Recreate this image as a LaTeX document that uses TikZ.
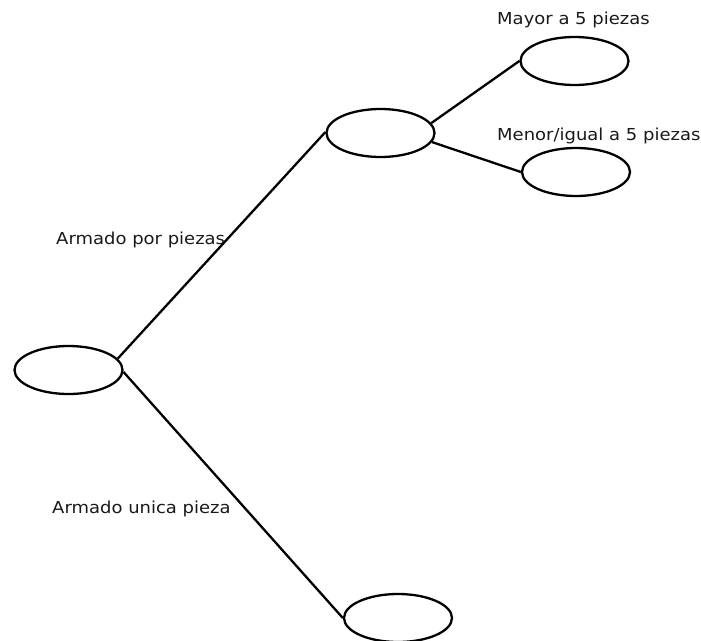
\documentclass[tikz,border=0pt]{standalone}
\usepackage{fontspec}
\setmainfont{DejaVu Sans}[FakeStretch=1.09]
\usetikzlibrary{shapes.geometric}
\begin{document}
\begin{tikzpicture}[x=1pt,y=-1pt,
  oval/.style={ellipse,draw=black,line width=2.3pt,minimum width=108pt,minimum height=48pt,inner sep=0pt},
  conn/.style={draw=black,line width=2.3pt},
  lbl/.style={anchor=base west,inner sep=0pt,font=\fontsize{16.5}{18}\selectfont,text=black!90}]
\useasboundingbox (0,0) rectangle (701,640);
\node[oval] (root) at (68.5,370) {};
\node[oval] (mid) at (380.5,133) {};
\node[oval] (tr) at (574.5,61) {};
\node[oval] (br) at (576,172) {};
\node[oval] (bot) at (398,618) {};
\draw[conn] (root.13) -- (mid.179);
\draw[conn] (root.-2) -- (bot.180);
\draw[conn] (mid.11) -- (tr.180);
\draw[conn] (mid.-10) -- (br.180);
\node[lbl] (l1) at (497,24) {Mayor a 5 piezas};
\node[lbl] (l2) at (497,140) {Menor/igual a 5 piezas};
\node[lbl] (l3) at (56,244) {Armado por piezas};
\node[lbl] (l4) at (52,513) {Armado unica pieza};
\end{tikzpicture}
\end{document}
